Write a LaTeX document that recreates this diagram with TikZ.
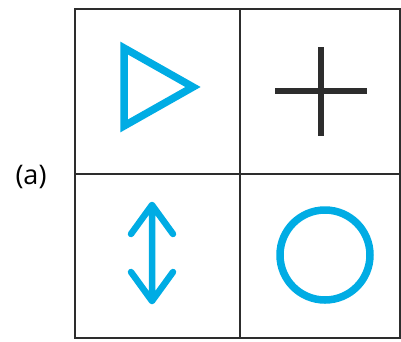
\documentclass[tikz,border=0pt]{standalone}
\usepackage{fontspec}
\setmainfont{Open Sans}
\usepackage{xcolor}
\usetikzlibrary{shapes,arrows,positioning}

\definecolor{symcyan}{RGB}{0,172,228}
\definecolor{gridgray}{RGB}{45,45,45}

\tikzset{
    cell/.style={line width=2pt, draw=gridgray},
    sym/.style={line width=7.5pt, draw=symcyan, line join=round, line cap=round}
}

\begin{document}
\begin{tikzpicture}[x=1pt,y=-1pt]
                \useasboundingbox (0,0) rectangle (401,341);

                % the four cells
                \draw[cell] (75,9) rectangle (240,174) node[pos=.5] (cellTL) {};
                \draw[cell] (240,9) rectangle (400,174) node[pos=.5] (cellTR) {};
                \draw[cell] (75,174) rectangle (240,338) node[pos=.5] (cellBL) {};
                \draw[cell] (240,174) rectangle (400,338) node[pos=.5] (cellBR) {};

                \node[font=\fontsize{27}{32}\selectfont] (label) at (31,177) {(a)};

                % triangle
                \draw[
                    sym,
                    line cap=butt,
                    line join=miter
                    ] (124,48) -- (193,87) -- (124,126) -- cycle;

                % plus
                \draw[
                    line width=5.5pt,
                    draw=gridgray
                    ] (275,91) -- (367,91)
                      (321,47) -- (321,136);

                % double arrow
                \draw[
                    sym,
                    line width=6.5pt
                    ] (152,205) -- (152,301)
                      (131,234) -- (152,205) -- (173,234)
                      (131,272) -- (152,301) -- (173,272);

                % circle
                \draw[
                    sym
                    ] (325,255) circle (45);

            \end{tikzpicture}
\end{document}
